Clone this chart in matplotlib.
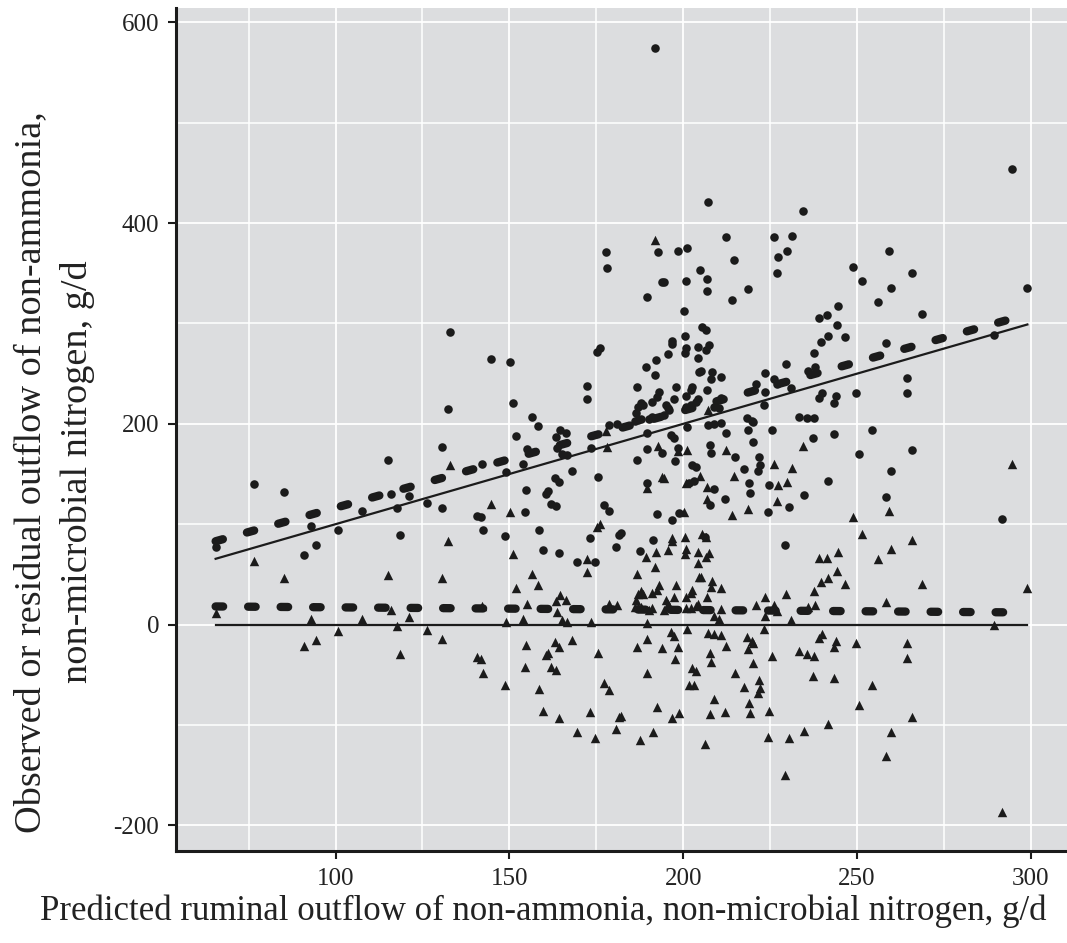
import matplotlib
matplotlib.use("Agg")
import matplotlib.pyplot as plt
from matplotlib.ticker import MultipleLocator
import numpy as np

# predicted vs observed outflow, g/d (one entry per observation)
predicted = [
    65.5, 76.4, 85.3, 90.8, 92.8, 94.5, 100.6, 107.5, 115, 116, 117.8, 118.4, 121, 126.4,
    130.5, 130.7, 132.2, 133, 140.8, 141.8, 142.5, 142, 144.8, 148.6, 149, 150.3, 150.9,
    152, 154, 154.6, 154.9, 155, 156.6, 158.3, 158.6, 159.8, 160.6, 161.2, 162, 163.5,
    163, 164.4, 163.5, 164.7, 166.4, 163.8, 165.2, 166.7, 164.4, 168, 169.5, 172.4, 172.4,
    173.3, 173.6, 174.7, 175.3, 176.2, 175.6, 177.3, 178.7, 177.9, 178.2, 178.7, 181,
    180.7, 181.5, 182, 186.5, 186.8, 186.8, 187.6, 187, 186, 187, 188, 188, 188.5,
    189.4, 189.7, 189.7, 189.7, 189.7, 190.2, 191, 191, 191.4, 192, 192, 192.2, 192.5,
    192.5, 192.8, 193.1, 194, 194.5, 194, 194.5, 195, 195.7, 195.7, 196, 196.6, 197.4,
    196.8, 196.8, 196.8, 197.4, 197.7, 198, 198.6, 198.6, 198.9, 200.3, 200.6, 200.9,
    200.9, 200.6, 200.9, 200.9, 201, 201.1, 201.7, 203.2, 202.6, 203.7, 202.3, 202.6,
    202.3, 203.7, 204.3, 204.3, 204.3, 204.6, 205.2, 204.9, 205.5, 206.3, 206.6, 206.6,
    206.9, 206.9, 206.9, 207.2, 207.5, 207.8, 207.8, 208, 208.3, 208, 210.9, 207, 209,
    211, 209, 210.3, 209, 211, 212, 212.4, 212.4, 214, 214.7, 215, 217.5, 218.4, 218.7,
    218.7, 219, 219.3, 219.8, 220, 220, 221, 221.6, 222.1, 221.8, 223.3, 223.6, 223.6,
    224.7, 224.4, 225.6, 226.1, 227.3, 229.9, 231.3, 227, 227, 226, 229.3, 229.6, 230.5,
    231, 233.3, 235.6, 237.6, 234.5, 234.8, 236, 238, 237.4, 237.6, 239, 240, 239, 241.4,
    239.7, 241.7, 241.7, 243.4, 244, 243.4, 244.3, 244.5, 246.6, 248.9, 249.7, 250.6,
    251.4, 254.3, 256, 258.3, 258.3, 259.2, 259.8, 259.8, 264.4, 264.4, 265.8, 265.8,
    268.7, 289.4, 291.7, 294.5, 299,
]
observed = [
    77, 140, 132, 69, 98, 79, 94, 113, 164, 130, 116, 89.5, 128, 121,
    177, 116, 215, 292, 108, 107, 94, 160, 265, 88, 152, 262, 221,
    188, 160, 112, 134, 175, 207, 198, 94, 74, 130, 133, 120, 118,
    146, 142, 187, 194, 191, 176, 170, 169, 71, 153, 62, 238, 225,
    86, 176, 62, 272, 276, 147, 119, 113, 371, 355, 199, 200,
    77, 89, 91, 211, 237, 164, 73, 217, 203, 204, 205, 221, 219,
    257, 326, 191, 175, 141, 205, 222, 207, 84, 249, 575, 264, 110,
    227, 371, 232, 341, 341, 171, 209, 219, 216, 270, 214, 189, 186,
    283, 280, 104, 225, 163, 237, 176, 372, 111, 312, 288, 342,
    276, 271, 228, 217, 197, 375, 141, 143, 159, 157, 234, 237,
    219, 222, 277, 266, 225, 252, 253, 353, 296, 87, 274, 294,
    344, 332, 234, 421, 279, 179, 119, 171, 252, 245, 247, 199, 200,
    201, 135, 216, 217, 226, 125, 386, 191, 323, 363, 167, 155, 206, 194,
    334, 141, 131, 203, 202, 182, 240, 153, 159, 167, 219, 232, 251,
    139, 112, 194, 386, 366, 372, 387, 350, 240, 245, 79, 260, 117,
    236, 207, 206, 206, 412, 129, 253, 257, 186, 271, 226, 231, 305, 308,
    282, 288, 143, 221, 228, 190, 298, 317, 287, 356, 231, 170,
    342, 194, 321, 281, 127, 372, 335, 153, 246, 231, 350, 174,
    309, 289, 105, 454, 335,
]

# fitted lines (ends at the smallest and largest prediction)
fit_x = [65.5, 299]
fit_observed = [83, 309]
fit_residual = [18, 12]

pred = np.array(predicted)
obs = np.array(observed)
resid = obs - pred

DARK = "#1b1b1b"
TEXT = "#222222"
BG = "#dcdddf"

plt.rcParams["font.family"] = ["Liberation Serif", "DejaVu Serif"]

fig = plt.figure(figsize=(10.67, 9.43), dpi=100)
ax = fig.add_axes([176 / 1067, 1 - 851 / 943, 1 - 176 / 1067, (851 - 8) / 943])
ax.set_facecolor(BG)

ax.set_xlim(54.1, 310.4)
ax.set_ylim(-225.7, 614.4)
ax.xaxis.set_major_locator(MultipleLocator(50))
ax.xaxis.set_minor_locator(MultipleLocator(25))
ax.yaxis.set_major_locator(MultipleLocator(200))
ax.yaxis.set_minor_locator(MultipleLocator(100))
ax.grid(which="major", color="white", linewidth=1.3)
ax.grid(which="minor", color="white", linewidth=1.1)
ax.set_axisbelow(True)

for side in ("top", "right"):
    ax.spines[side].set_visible(False)
for side in ("left", "bottom"):
    ax.spines[side].set_color(DARK)
    ax.spines[side].set_linewidth(2.2)

ax.tick_params(which="major", length=6, width=1.5, color=DARK, labelsize=18, pad=6,
               labelcolor=TEXT)
ax.tick_params(which="minor", length=0)
ax.set_xticks([100, 150, 200, 250, 300])
ax.set_yticks([-200, 0, 200, 400, 600])
ax.set_yticklabels(["-200", "0", "200", "400", "600"])

# reference lines: observed = predicted, residual = 0
ax.plot(fit_x, fit_x, color=DARK, linewidth=1.6, zorder=3)
ax.plot(fit_x, [0, 0], color=DARK, linewidth=1.6, zorder=3)

# regression lines, thick dashes
for yy in (fit_observed, fit_residual):
    ax.plot(fit_x, yy, color=DARK, linewidth=6, dashes=(0.9, 3.0),
            dash_capstyle="round", zorder=4)

ax.scatter(pred, obs, s=38, marker="o", color=DARK, linewidths=0, zorder=5)
ax.scatter(pred, resid, s=46, marker="^", color=DARK, linewidths=0, zorder=5)

fig.text(543 / 1067, 1 - 911 / 943,
         "Predicted ruminal outflow of non-ammonia, non-microbial nitrogen, g/d",
         ha="center", va="center", fontsize=25, color=TEXT)
fig.text(31 / 1067, 1 - 472 / 943, "Observed or residual outflow of non-ammonia,",
         ha="center", va="center", rotation=90, fontsize=27.5, color=TEXT)
fig.text(78 / 1067, 1 - 472 / 943, "non-microbial nitrogen, g/d",
         ha="center", va="center", rotation=90, fontsize=27.5, color=TEXT)

fig.savefig("out.png", dpi=100)
